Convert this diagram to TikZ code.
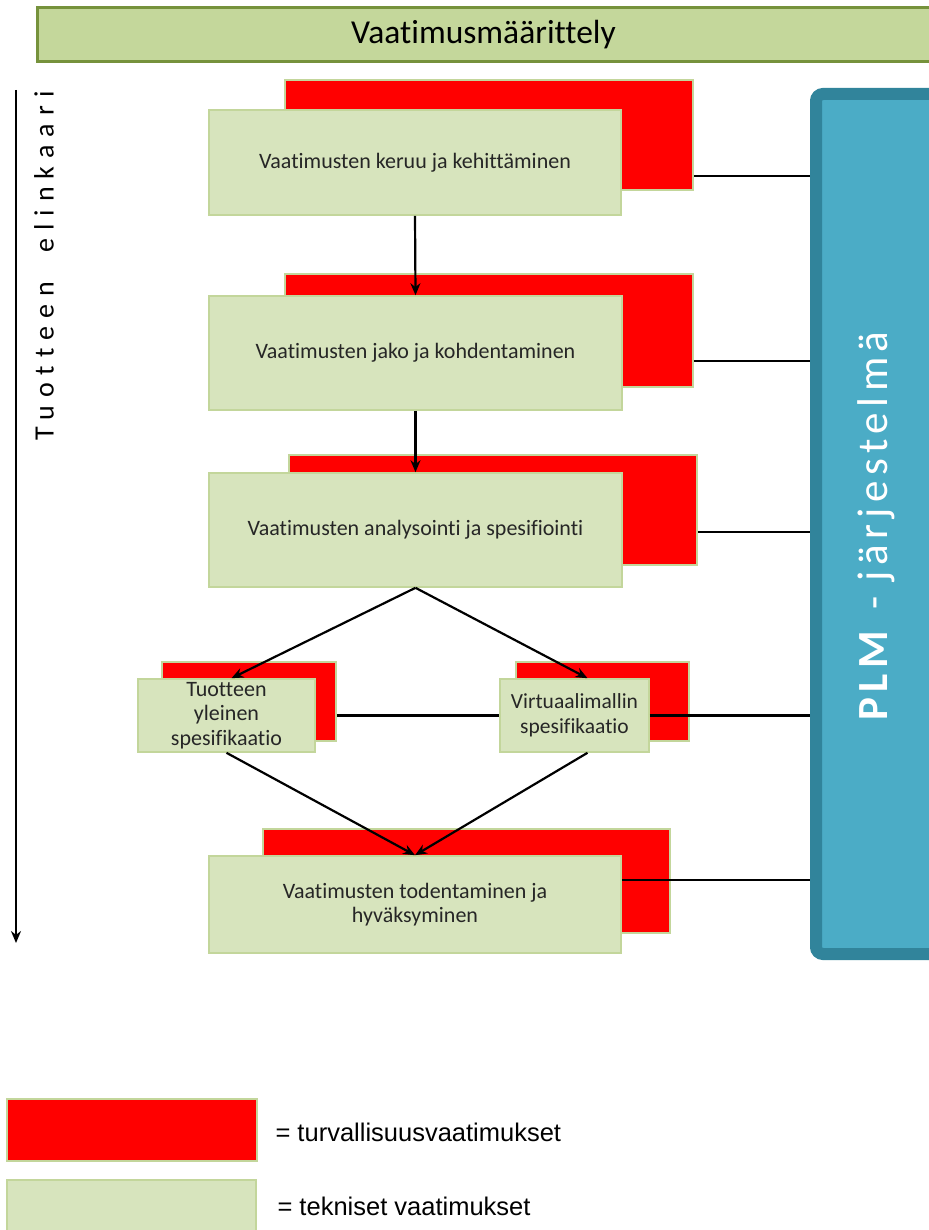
\documentclass[tikz,border=0pt]{standalone}
\usepackage{fontspec}
\setmainfont{Carlito}[Ligatures=NoCommon]
\newfontfamily\legendfont{Liberation Sans}
\usetikzlibrary{arrows.meta,calc}
\definecolor{barfill}{RGB}{196,215,155}
\definecolor{barline}{RGB}{118,146,60}
\definecolor{techfill}{RGB}{215,228,189}
\definecolor{techline}{RGB}{195,214,155}
\definecolor{plmfill}{RGB}{75,172,198}
\definecolor{plmline}{RGB}{49,132,155}
\tikzset{
  techbox/.style={draw=techline, fill=techfill, line width=1.6pt, inner sep=2pt,
    align=center, font=\fontsize{22}{26}\selectfont, text=black!85},
  safebox/.style={draw=techline, fill=red, line width=1.6pt},
  link/.style={line width=2.2pt},
  flow/.style={line width=2.2pt, -{Stealth[length=12pt,width=10pt]}}
}
\begin{document}
\begin{tikzpicture}[x=1pt,y=-1pt]
\useasboundingbox (0,0) rectangle (928,1230);

% header bar
\node[draw=barline, fill=barfill, line width=3pt, minimum width=893pt, minimum height=54pt,
  font=\fontsize{33.5}{38}\selectfont] (head) at (483.5,35) {Vaatimusmäärittely};

% lifecycle arrow
\coordinate (lifeA) at (16,90);
\coordinate (lifeB) at (16,943);
\draw[flow] (lifeA) -- (lifeB);
\node[rotate=90, font=\fontsize{28}{32}\selectfont\addfontfeature{LetterSpace=29}] (life) at (44,266) {Tuotteen\ \ elinkaari};

% PLM system
\node[draw=plmline, fill=plmfill, line width=12pt, rounded corners=7pt,
  minimum width=190pt, minimum height=860pt] (plm) at (911,524) {};
\node[rotate=90, text=white, font=\fontsize{43}{48}\selectfont\addfontfeature{LetterSpace=13}] (plmtext) at (876,526) {\textbf{PLM} - järjestelmä};

% step 1
\node[safebox, minimum width=408pt, minimum height=110pt] (r1) at (489,135) {};
\node[techbox, minimum width=412pt, minimum height=105pt] (b1) at (415,162.5) {Vaatimusten keruu ja kehittäminen};
% step 2
\node[safebox, minimum width=408pt, minimum height=113pt] (r2) at (489,330.5) {};
\node[techbox, minimum width=413pt, minimum height=114pt] (b2) at (415.5,353) {Vaatimusten jako ja kohdentaminen};
% step 3
\node[safebox, minimum width=408pt, minimum height=110pt] (r3) at (493,510) {};
\node[techbox, minimum width=413pt, minimum height=114pt] (b3) at (415.5,530) {Vaatimusten analysointi ja spesifiointi};
% step 4a
\node[safebox, minimum width=174pt, minimum height=79pt] (r4) at (249,701.5) {};
\node[techbox, minimum width=177pt, minimum height=73pt, font=\fontsize{22}{24.5}\selectfont] (b4) at (226.5,715.5) {Tuotteen\\yleinen\\spesifikaatio};
% step 4b
\node[safebox, minimum width=173pt, minimum height=79pt] (r5) at (602.5,701.5) {};
\node[techbox, minimum width=149pt, minimum height=73pt, font=\fontsize{21.5}{25}\selectfont] (b5) at (574.5,715.5) {Virtuaalimallin\\spesifikaatio};
% step 5
\node[safebox, minimum width=407pt, minimum height=104pt] (r6) at (466.5,881) {};
\node[techbox, minimum width=412pt, minimum height=97pt, font=\fontsize{22}{24}\selectfont] (b6) at (415,904.5) {Vaatimusten todentaminen ja\\hyväksyminen};

% flow between steps
\draw[flow] (b1.south) -- (b2.north);
\draw[flow] (b2.south) -- (b3.north);
\draw[flow] (b3.south) -- ([xshift=5pt]b4.north);
\draw[flow] (b3.south) -- ([xshift=13pt]b5.north);
\draw[flow] (b4.south) -- (b6.north);
\draw[flow] ([xshift=13pt]b5.south) -- (b6.north);

% links to the PLM system
\coordinate (c1) at ([yshift=15pt]r1.south east);
\coordinate (c2) at ([yshift=27pt]r2.south east);
\coordinate (c3) at ([yshift=34pt]r3.south east);
\coordinate (c6) at ([yshift=24.5pt]b6.east);
\draw[link] (c1) -- (c1 -| plm.west);
\draw[link] (c2) -- (c2 -| plm.west);
\draw[link] (c3) -- (c3 -| plm.west);
\draw[link] (r4.east |- b4.center) -- (b5.west);
\draw[link] (b5.east) -- (b5.east -| plm.west);
\draw[link] (c6) -- (c6 -| plm.west);

% legend
\node[safebox, minimum width=250pt, minimum height=62pt] (lgred) at (132,1130) {};
\node[draw=techline, fill=techfill, line width=1.6pt, minimum width=249pt, minimum height=56pt] (lggreen) at (131.5,1208) {};
\node[anchor=west, font=\legendfont\fontsize{25.5}{30}\selectfont] (lgredtext) at (272,1132) {= turvallisuusvaatimukset};
\node[anchor=west, font=\legendfont\fontsize{25.5}{30}\selectfont] (lggreentext) at (274,1206) {= tekniset vaatimukset};
\end{tikzpicture}
\end{document}
